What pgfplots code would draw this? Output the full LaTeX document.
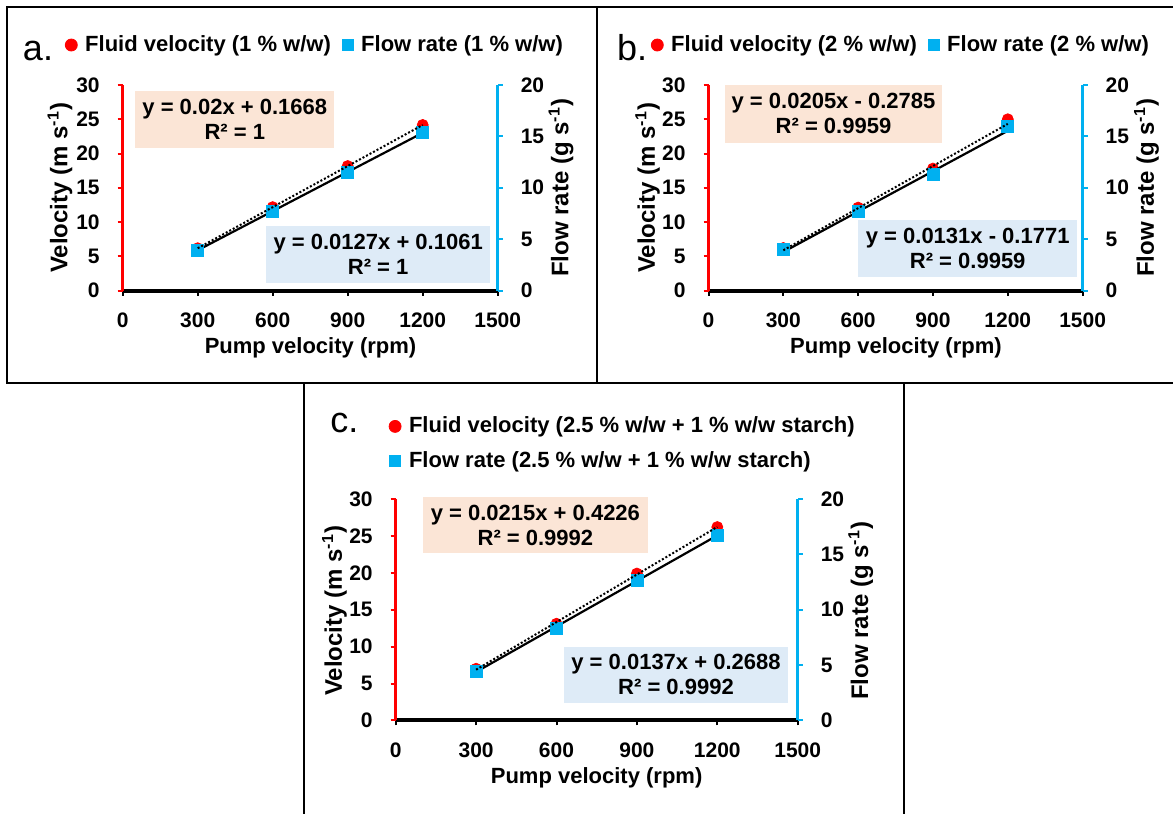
\documentclass[border=0pt]{standalone}
\usepackage{pgfplots}
\pgfplotsset{compat=1.18}
\usepackage{fontspec}
\setmainfont{Liberation Sans}
\definecolor{vred}{RGB}{255,0,0}
\definecolor{fblue}{RGB}{0,176,240}
\definecolor{boxor}{RGB}{251,229,214}
\definecolor{boxbl}{RGB}{222,235,247}
\newcommand{\lab}{\fontsize{11}{12.5}\selectfont\bfseries}
\newcommand{\ylab}{\fontsize{12}{13}\selectfont\bfseries}
\newcommand{\tck}{\fontsize{10.5}{12}\selectfont\bfseries}
\newcommand{\panelfont}{\fontsize{18}{20}\selectfont}
\pgfplotsset{
 base/.style={scale only axis, anchor=south west, xmin=0, xmax=1500,
   tick align=outside, major tick length=2.5pt,
   ticklabel style={font=\tck},
   /pgf/number format/assume math mode=true,
   /pgf/number format/1000 sep={},
   label style={font=\lab}},
 velax/.style={base, axis x line*=bottom, axis y line*=left, ymin=0, ymax=30,
   ytick={0,5,...,30}, xtick={0,300,...,1500},
   x axis line style={black, line width=2pt},
   y axis line style={vred, line width=1.6pt},
   x tick style={black, line width=1pt},
   y tick style={vred, line width=1pt},
   yticklabel style={xshift=-5.5pt}, xticklabel style={yshift=-5pt},
   xlabel={Pump velocity (rpm)},
   ylabel={Velocity (m s\textsuperscript{-1})},
   ylabel style={font=\ylab}},
 flowax/.style={base, axis x line=none, axis y line*=right, ymin=0, ymax=20,
   ytick={0,5,...,20},
   y axis line style={fblue, line width=1.6pt},
   y tick style={fblue, line width=1pt},
   yticklabel style={xshift=5.5pt},
   ylabel={Flow rate (g s\textsuperscript{-1})},
   ylabel style={font=\ylab},
   legend cell align=left},
 trendax/.style={base, hide axis, ymin=0, ymax=30},
 vmark/.style={only marks, mark=*, mark size=2.75pt, color=vred},
 fmark/.style={only marks, mark=square*, mark size=3pt, color=fblue,
   legend image code/.code={\fill[fblue] (-2.75pt,-2.75pt) rectangle (2.75pt,2.75pt);}},
 vleg/.style={legend image code/.code={\fill[vred] (0pt,0pt) circle (3pt);}},
 leg/.style={legend style={draw=none, fill=none, inner sep=0pt, font=\lab,
   nodes={inner sep=0pt},
   /tikz/every odd column/.append style={column sep=3.75pt},
   /tikz/every even column/.append style={column sep=5.5pt}}},
}
\begin{document}
\begin{tikzpicture}
\useasboundingbox (0pt,0pt) rectangle (586.5pt,-407pt);
% frames
\draw[line width=1pt] (587pt,-3.5pt) -- (3.5pt,-3.5pt) -- (3.5pt,-191.5pt) -- (587pt,-191.5pt);
\draw[line width=1pt] (298.5pt,-3.5pt) -- (298.5pt,-191.5pt);
\draw[line width=1pt] (151.75pt,-191.5pt) -- (151.75pt,-408pt);
\draw[line width=1pt] (452pt,-191.5pt) -- (452pt,-408pt);
% panel letters
\node[anchor=base west, inner sep=0pt, font=\panelfont] at (11.3pt,-30pt) {a.};
\node[anchor=base west, inner sep=0pt, font=\panelfont] at (308.4pt,-30pt) {b.};
\node[anchor=base west, inner sep=0pt, font=\panelfont] at (165pt,-216.3pt) {c.};
% equation boxes
\node[fill=boxor, minimum width=99.35pt, minimum height=28.35pt, align=center, font=\lab, inner sep=0pt] at (117.4pt,-59.7pt) {y = 0.02x + 0.1668\\R² = 1};
\node[fill=boxbl, minimum width=111.75pt, minimum height=28.35pt, align=center, font=\lab, inner sep=0pt] at (189.1pt,-127.2pt) {y = 0.0127x + 0.1061\\R² = 1};
\node[fill=boxor, minimum width=108.9pt, minimum height=28.85pt, align=center, font=\lab, inner sep=0pt] at (416.75pt,-56.9pt) {y = 0.0205x - 0.2785\\R² = 0.9959};
\node[fill=boxbl, minimum width=109.3pt, minimum height=28.35pt, align=center, font=\lab, inner sep=0pt] at (483.85pt,-124.2pt) {y = 0.0131x - 0.1771\\R² = 0.9959};
\node[fill=boxor, minimum width=112.15pt, minimum height=28pt, align=center, font=\lab, inner sep=0pt] at (267.7pt,-262.65pt) {y = 0.0215x + 0.4226\\R² = 0.9992};
\node[fill=boxbl, minimum width=112pt, minimum height=28pt, align=center, font=\lab, inner sep=0pt] at (338pt,-337.35pt) {y = 0.0137x + 0.2688\\R² = 0.9992};

% ---------------- panel a ----------------
\begin{axis}[velax, at={(61.35pt,-145.25pt)}, width=187.5pt, height=102.75pt,
  xlabel style={at={(axis description cs:0.5008,-0.2798)}, anchor=center},
  ylabel style={at={(axis description cs:-0.167,0.5)}, anchor=center}]
\addplot[vmark] coordinates {(300,6.17) (600,12.17) (900,18.17) (1200,24.17)};
\end{axis}
\begin{axis}[flowax, leg, at={(61.35pt,-145.25pt)}, width=187.5pt, height=102.75pt,
  ylabel style={at={(axis description cs:1.1688,0.5)}, anchor=center},
  legend columns=2, legend style={at={(-0.1552,1.1946)}, anchor=west}]
\addlegendimage{vleg}
\addlegendentry{Fluid velocity (1 \% w/w)}
\addplot[fmark] coordinates {(300,3.91) (600,7.73) (900,11.54) (1200,15.35)};
\addlegendentry{Flow rate (1 \% w/w)}
\addplot[black, line width=1.1pt, forget plot] coordinates {(300,3.9161) (1200,15.3461)};
\end{axis}
\begin{axis}[trendax, at={(61.35pt,-145.25pt)}, width=187.5pt, height=102.75pt]
\addplot[black, line width=1pt, dash pattern=on 1pt off 1pt] coordinates {(300,6.1668) (1200,24.1668)};
\end{axis}

% ---------------- panel b ----------------
\begin{axis}[velax, at={(354.25pt,-145.25pt)}, width=187.05pt, height=102.75pt,
  xlabel style={at={(axis description cs:0.501,-0.2798)}, anchor=center},
  ylabel style={at={(axis description cs:-0.1628,0.5)}, anchor=center}]
\addplot[vmark] coordinates {(300,6.2) (600,12.1) (900,17.8) (1200,25.0)};
\end{axis}
\begin{axis}[flowax, leg, at={(354.25pt,-145.25pt)}, width=187.05pt, height=102.75pt,
  ylabel style={at={(axis description cs:1.1708,0.5)}, anchor=center},
  legend columns=2, legend style={at={(-0.155,1.1946)}, anchor=west}]
\addlegendimage{vleg}
\addlegendentry{Fluid velocity (2 \% w/w)}
\addplot[fmark] coordinates {(300,3.96) (600,7.73) (900,11.3) (1200,15.96)};
\addlegendentry{Flow rate (2 \% w/w)}
\addplot[black, line width=1.1pt, forget plot] coordinates {(300,3.7529) (1200,15.5429)};
\end{axis}
\begin{axis}[trendax, at={(354.25pt,-145.25pt)}, width=187.05pt, height=102.75pt]
\addplot[black, line width=1pt, dash pattern=on 1pt off 1pt] coordinates {(300,5.8715) (1200,24.3215)};
\end{axis}

% ---------------- panel c ----------------
\begin{axis}[velax, at={(197.85pt,-360.2pt)}, width=201pt, height=110.7pt,
  xlabel style={at={(axis description cs:0.4998,-0.2615)}, anchor=center},
  ylabel style={at={(axis description cs:-0.1525,0.495)}, anchor=center}]
\addplot[vmark] coordinates {(300,7.0) (600,13.1) (900,19.9) (1200,26.2)};
\end{axis}
\begin{axis}[flowax, leg, at={(197.85pt,-360.2pt)}, width=201pt, height=110.7pt,
  ylabel style={at={(axis description cs:1.1567,0.495)}, anchor=center},
  legend columns=1, legend style={at={(-0.0184,1.249)}, anchor=west, row sep=8pt}]
\addlegendimage{vleg}
\addlegendentry{Fluid velocity (2.5 \% w/w + 1 \% w/w starch)}
\addplot[fmark] coordinates {(300,4.45) (600,8.3) (900,12.65) (1200,16.7)};
\addlegendentry{Flow rate (2.5 \% w/w + 1 \% w/w starch)}
\addplot[black, line width=1.1pt, forget plot] coordinates {(300,4.3788) (1200,16.7088)};
\end{axis}
\begin{axis}[trendax, at={(197.85pt,-360.2pt)}, width=201pt, height=110.7pt]
\addplot[black, line width=1pt, dash pattern=on 1pt off 1pt] coordinates {(300,6.8726) (1200,26.2226)};
\end{axis}
\end{tikzpicture}
\end{document}
